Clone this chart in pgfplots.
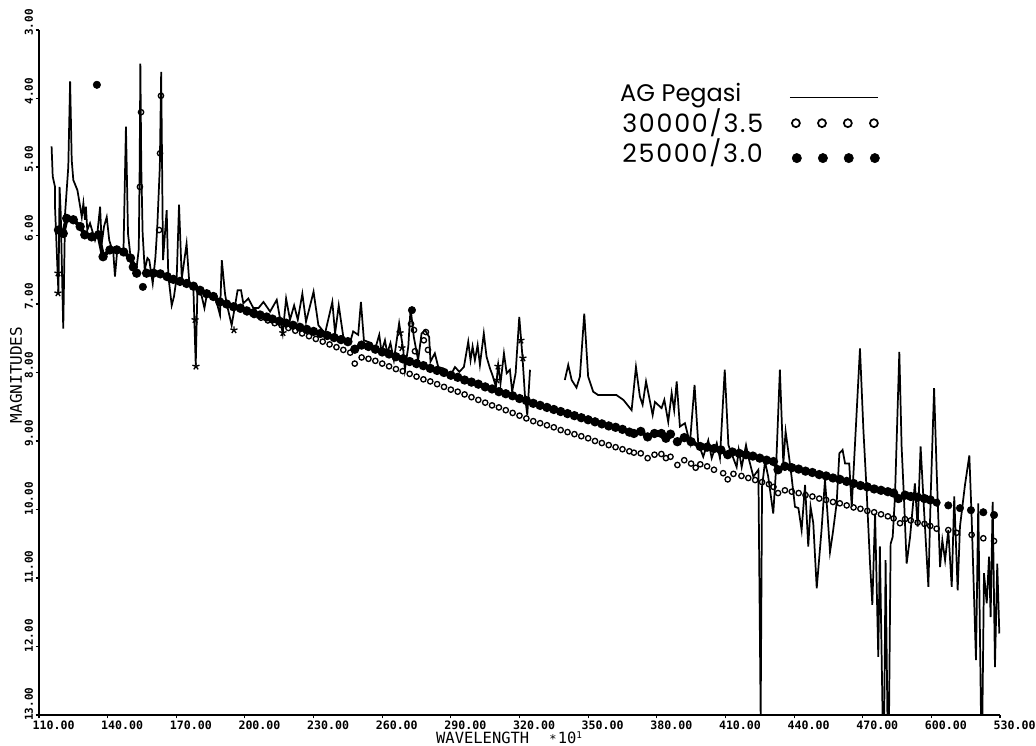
\documentclass[border=0pt]{standalone}
\usepackage{fontspec}
\usepackage{pgfplots}
\pgfplotsset{compat=1.18}
\newfontfamily\plotfont{DejaVu Sans Mono}
\newfontfamily\legfont{Poppins}
\newfontfamily\legnum[LetterSpace=7]{Poppins}

% AG Pegasi, gaps in the spectrum are nan
\pgfplotstableread{
x y
115.5 4.70
116 5.14
117 5.29
117 5.58
118.5 6.85
119 5.29
119.5 5.68
120.6 7.36
121.4 5.68
122.8 5.00
123.6 3.75
124.3 4.90
125 5.19
126.8 5.34
128 5.58
128.7 5.73
129.4 5.53
130.1 5.77
130.5 5.58
131.1 5.92
132.3 5.82
134.5 6.07
135.5 5.97
136.7 5.58
137.4 6.12
138.4 5.87
139.6 5.73
140.7 6.07
142.5 6.26
143.2 6.60
144.2 6.21
146.9 6.26
148 4.41
148.9 5.97
150 6.31
152.7 6.46
153.6 6.20
154 5.00
154.3 3.49
154.7 5.00
155.3 5.97
156.2 6.50
157.4 6.33
158.2 6.36
159.7 6.70
160.9 6.31
161.7 5.87
162.8 5.00
163.4 3.61
163.8 5.00
164.2 6.36
165.8 5.63
166.5 6.58
168 7.02
169 6.89
170.2 6.60
171.2 5.55
172.4 6.63
174.5 6.12
175.7 6.70
177.5 6.80
178.5 7.89
179.2 6.85
181 6.87
182.3 7.06
183.6 6.82
187 6.89
189.1 7.16
189.9 6.36
191.3 6.85
192 6.99
194.2 7.31
195.7 7.02
196.8 6.80
198.3 6.80
199.3 6.99
201.5 6.92
203.7 7.06
205.9 7.06
208.1 6.97
211 7.11
213.9 6.94
216.5 7.43
218 6.92
219.7 7.23
221.5 7.02
223.1 7.23
225.1 6.85
226.7 7.26
230 6.82
232.1 7.31
235 7.43
238.2 6.97
239.4 7.43
241 7.02
243 7.48
245.9 7.57
247.3 7.40
249.5 7.45
250.7 6.97
252 7.53
255.3 7.57
256.8 7.67
258.7 7.45
259.7 7.70
261.2 7.53
262.2 7.72
263.6 7.57
265.1 7.82
267.4 7.28
269.2 7.67
269.9 7.96
271.4 7.62
272.4 7.06
273.8 7.48
275.7 7.82
277.2 7.43
278.7 7.38
280.5 7.48
281.1 7.84
283 7.72
284.5 7.92
286.7 7.94
289.6 8.06
291.8 7.92
293.7 7.99
295.7 7.92
297.6 7.55
298.6 7.82
299.5 7.62
300.5 7.82
301.7 7.60
302.7 7.89
304.4 7.43
305.6 7.77
307.1 7.94
308.2 8.04
309.7 8.21
310.7 7.89
311.7 8.16
313.2 7.72
314.4 8.01
315.8 7.96
316.8 8.28
318.3 8.01
319.9 7.19
321.3 7.77
322.4 8.35
323.4 8.62
324.6 7.96
330 nan
339.8 8.11
341.3 7.89
342.8 8.11
344.9 8.22
346.4 8.06
348.3 7.14
350 8.06
352.2 8.28
354.4 8.33
358.1 8.33
362.4 8.33
365.4 8.40
369 8.55
370.9 7.92
372.6 8.35
373.8 8.47
375.3 8.13
378.2 8.62
379.2 8.43
382.1 8.52
383.3 8.40
385 8.72
386.5 8.30
387.6 8.55
388.7 8.13
390.1 8.79
392.3 8.74
393.8 8.94
394.5 9.03
396.5 8.18
398.1 9.03
400.3 9.23
402.5 8.99
404 9.25
406.2 9.03
407.6 9.25
409.7 7.96
411.3 9.06
414.9 9.38
415.8 9.13
417.1 9.38
419 9.06
420 9.23
422.2 9.52
424.4 9.42
425.4 13.03
426 9.67
427.3 9.30
428.7 9.52
430.9 10.06
432.1 9.42
433.8 7.96
435.3 9.33
436.3 8.86
437.8 9.23
438.9 9.52
440.4 9.96
441.9 9.98
443.3 10.30
444.8 9.64
446.2 10.54
447.2 9.96
448.4 10.20
449.9 11.15
452 10.30
453.5 9.57
454.5 10.01
455.7 10.62
456.9 10.35
458.6 9.91
459.8 9.18
461.2 9.13
462.3 9.33
464.1 9.33
465.2 9.96
468.8 7.65
470.3 8.84
471.7 9.72
473.2 10.79
474.2 11.39
475.4 10.06
476.8 12.15
477.5 10.54
478.7 13.03
479.4 13.03
480 10.74
480.8 13.03
481.5 13.03
482.2 10.50
483.1 10.40
484.1 9.81
486 7.70
487 9.08
488 9.81
489.2 10.79
490.7 10.40
492.8 9.62
494 10.25
495.3 9.08
496.8 10.01
498.7 11.13
499.7 9.81
501.2 8.23
502.3 9.42
503.8 10.84
504.8 10.45
506 10.74
507.4 10.30
508.9 11.13
510 9.81
511.5 11.18
512.5 10.25
514.7 9.64
516.6 9.21
517.6 10.11
519.5 12.20
520.5 9.91
521.7 13.03
522.3 13.03
523 10.93
524.2 11.37
525.2 10.69
525.9 11.57
526.8 9.89
527.8 12.30
528.8 10.79
529.7 11.81
}\agpeg

% 25000/3.0 model
\pgfplotstableread{
x y
118.5 5.92
120.6 5.97
122.1 5.75
125 5.77
128 5.87
130 5.99
133 6.02
136 5.99
138 6.31
141 6.21
144 6.21
147 6.24
150 6.33
151.2 6.46
152.7 6.55
154 nan
157 6.55
160 6.55
163 6.56
166 6.60
168.7 6.64
171.6 6.67
174.5 6.70
177.5 6.74
180.4 6.80
183.3 6.85
186.2 6.89
189 6.97
192 7.00
195 7.04
198 7.06
200.8 7.10
203.7 7.13
206.6 7.16
209.5 7.19
212 7.22
215 7.25
218 7.28
221 7.31
224 7.34
227 7.37
230 7.40
233 7.43
236 7.46
239 7.49
242 7.52
245 7.55
246 nan
248 7.66
251 7.60
254 7.62
257 7.66
260 7.70
263 7.73
266 7.77
269 7.80
272 7.84
275 7.87
278 7.90
281 7.94
284 7.97
287 8.00
290 8.04
293 8.07
296 8.11
299 8.14
302 8.17
305 8.21
308 8.24
311 8.28
314 8.31
317 8.34
320 8.38
323 8.41
326 8.45
329 8.48
332 8.51
335 8.54
338 8.57
341 8.60
344 8.63
347 8.66
350 8.69
353 8.72
356 8.75
359 8.78
362 8.80
365 8.83
368 8.87
370 8.89
373 8.86
376 8.94
379 8.89
382 8.89
384 8.96
386 8.90
387.5 nan
389 9.01
392 8.95
395 9.01
399 9.08
402 9.09
405 9.11
408 9.13
411 9.20
413 9.16
416 9.18
419 9.20
422 9.22
425 9.25
428 9.28
431 9.30
433 9.42
436 9.37
439 9.39
442 9.41
445 9.44
448 9.46
451 9.49
454 9.51
457 9.54
460 9.56
463 9.59
466 9.62
469 9.65
472 9.67
475 9.70
478 9.72
481 9.74
483.5 9.76
485.6 9.84
488.5 9.79
491 9.81
494 9.82
497 9.84
499.5 9.86
}\hotb
\pgfplotstableread{
x y
502.3 9.90
507.4 9.94
512.5 9.98
517.3 10.01
522.7 10.04
527.4 10.08
155.4 6.75
135.3 3.80
273 7.09
}\hotbsparse

% 30000/3.5 model
\pgfplotstableread{
x y
198 7.08
201 7.12
204 7.16
207 7.20
210 7.24
213 7.28
216 7.31
219 7.35
222 7.39
225 7.43
228 7.47
231 7.51
234 7.55
237 7.59
240 7.63
243 7.67
246 7.71
248 7.87
251 7.78
254 7.80
257 7.83
260 7.87
263 7.91
266 7.95
269 7.98
272 8.02
275 8.06
278 8.10
281 8.13
284 8.17
287 8.21
290 8.25
293 8.28
296 8.32
299 8.36
302 8.40
305 8.44
308 8.48
311 8.51
314 8.55
317 8.59
320 8.63
323 8.67
326 8.71
329 8.74
332 8.77
335 8.80
338 8.84
341 8.87
344 8.90
347 8.93
350 8.96
353 9.00
356 9.03
359 9.06
362 9.09
365 9.12
368 9.15
370 9.17
373 9.18
376 9.25
379 9.20
382 9.19
384 9.25
386 9.23
389 9.35
392 9.28
395 9.33
397 9.39
399 9.34
402 9.37
405 9.42
409 9.47
411 9.56
413.5 9.48
417 9.51
420 9.54
423 9.57
426 9.60
429 9.63
431 9.67
433 9.76
436 9.72
439 9.74
442 9.76
445 9.79
448 9.81
451 9.84
454 9.86
457 9.89
460 9.91
463 9.94
466 9.97
469 9.99
472 10.02
475 10.04
478 10.07
481 10.10
483.5 10.13
486.3 10.20
488.5 10.14
491 10.16
494 10.19
497 10.21
499.5 10.24
502.3 10.28
507.4 10.30
511 10.34
517.6 10.37
522.7 10.42
527.4 10.46
154.6 4.20
154.1 5.29
163.3 3.96
162.9 4.80
162.5 5.92
272.6 7.29
273.9 7.38
274.3 7.69
279.1 7.41
278.2 7.53
280 7.67
}\hota

% star marks on the spectrum
\pgfplotstableread{
x y
118.3 6.84
118.3 6.55
178.6 7.91
178.2 7.23
216.6 7.42
195.2 7.38
267.8 7.42
268.6 7.64
310.6 7.91
310.1 8.11
320.6 7.53
321.5 7.79
}\stars

\begin{document}
\begin{tikzpicture}[x=0.75pt,y=0.75pt]
\path[use as bounding box] (-39,-31) rectangle (997,715);
\begin{axis}[
  at={(0,0)}, anchor=south west,
  scale only axis, width=720.75pt, height=513.75pt,
  xmin=110, xmax=530, ymin=3, ymax=13, y dir=reverse,
  axis x line=bottom, axis y line=left,
  axis line style={-, line width=1.1pt, black},
  xtick={110,140,170,200,230,260,290,320,350,380,410,440,470,500,530},
  xticklabels={110.00,140.00,170.00,200.00,230.00,260.00,290.00,320.00,350.00,380.00,410.00,440.00,470.00,600.00,530.00},
  ytick={3,4,5,6,7,8,9,10,11,12,13},
  yticklabels={3.00,4.00,5.00,6.00,7.00,8.00,9.00,10.00,11.00,12.00,13.00},
  tick style={black, line width=0.8pt},
  tick align=outside, major tick length=2.5pt,
  xticklabel style={font=\plotfont\bfseries\fontsize{8.7}{9}\selectfont, anchor=west, inner sep=0pt, xshift=-5pt, yshift=-5.5pt},
  yticklabel style={font=\plotfont\bfseries\fontsize{8.2}{9}\selectfont, xshift=-5pt, yshift=-4.5pt, rotate=90, anchor=west, inner sep=0pt},
  xlabel={WAVELENGTH\hspace{15pt}{\small*}\hspace{1pt}10\raisebox{0.6ex}{\scriptsize 1}},
  ylabel={MAGNITUDES},
  xlabel style={font=\plotfont\fontsize{11.6}{13}\selectfont, at={(axis description cs:0.413,-0.0335)}, anchor=west, inner sep=0pt},
  ylabel style={font=\plotfont\fontsize{12}{13}\selectfont, at={(axis description cs:-0.0239,0.4964)}, anchor=center, inner sep=0pt},
  unbounded coords=jump,
]
\addplot[black, line width=1.3pt] table {\agpeg};
\addplot[black, line width=3pt, mark=*, mark size=1.9pt, mark options={solid}] table {\hotb};
\addplot[only marks, black, mark=*, mark size=2.8pt] table {\hotbsparse};
\addplot[only marks, black, mark=o, mark size=2pt, mark options={line width=1pt}] table {\hota};
\addplot[only marks, black, mark=star, mark size=2.8pt, mark options={line width=1pt}] table {\stars};
% legend
\addplot[black, line width=0.9pt] coordinates {(438.2,3.99) (476.7,3.99)};
\addplot[only marks, black, mark=o, mark size=3pt, mark options={line width=1.3pt}] coordinates {(440.8,4.36) (452.2,4.36) (463.5,4.36) (474.9,4.36)};
\addplot[only marks, black, mark=*, mark size=3.5pt] coordinates {(441.2,4.87) (452.6,4.87) (463.9,4.87) (475.3,4.87)};
\node[anchor=base west, inner sep=0pt, font=\legfont\fontsize{18}{20}\selectfont] at (axis cs:363.9,4.05) {AG\hspace{5pt}Pegasi};
\node[anchor=base west, inner sep=0pt, font=\legnum\fontsize{19}{20}\selectfont] at (axis cs:364.8,4.50) {30000/3.5};
\node[anchor=base west, inner sep=0pt, font=\legnum\fontsize{19}{20}\selectfont] at (axis cs:364.8,4.94) {25000/3.0};
\end{axis}
\end{tikzpicture}
\end{document}
